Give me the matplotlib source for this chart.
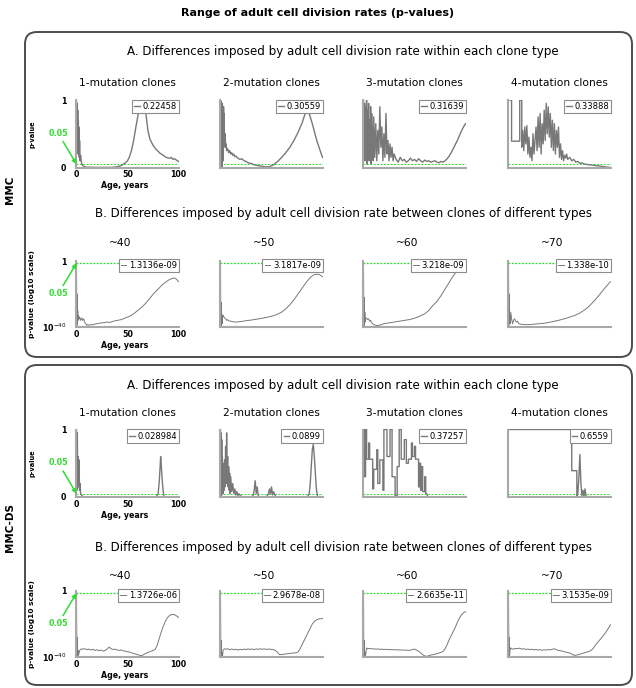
import matplotlib
matplotlib.use('Agg')
import matplotlib.pyplot as plt
from matplotlib.patches import FancyBboxPatch
from matplotlib.ticker import NullLocator

# ---------------- DATA ----------------
# A rows: (age, p-value);  B rows: (age, log10 p-value)
mmc_a_1mut = [(0,1.0),(0.3,0.3),(0.6,0.95),(0.9,0.4),(1.2,0.85),(1.5,0.2),(1.8,0.7),(2.1,0.3),(2.4,0.6),
              (2.7,0.15),(3,0.4),(3.5,0.1),(4,0.18),(5,0.06),(6,0.03),(7,0.02),(8,0.01),(10,0.005),(15,0.003),
              (20,0.002),(25,0.002),(30,0.002),(35,0.003),(38,0.006),(40,0.012),(42,0.02),(44,0.03),(46,0.05),
              (48,0.07),(50,0.1),(52,0.16),(54,0.26),(56,0.4),(58,0.58),(60,0.75),(61,0.83),(62,0.88),(63,0.93),
              (64,0.95),(65,0.95),(66,0.93),(67,0.88),(68,0.8),(69,0.68),(70,0.55),(72,0.42),(74,0.36),(75,0.33),
              (76,0.31),(78,0.27),(80,0.24),(82,0.21),(84,0.19),(86,0.17),(88,0.15),(90,0.14),(92,0.14),(93,0.15),
              (94,0.13),(95,0.12),(96,0.13),(97,0.12),(98,0.11),(100,0.09)]
mmc_a_2mut = [(0,1.0),(0.3,0.05),(0.6,0.98),(0.9,0.1),(1.2,0.9),(1.5,0.0),(1.8,0.95),(2.1,0.2),(2.4,0.85),
              (2.7,0.1),(3,0.9),(3.3,0.3),(3.6,0.8),(4,0.35),(4.5,0.5),(5,0.3),(5.5,0.35),(6,0.25),(7,0.28),
              (8,0.22),(9,0.25),(10,0.2),(11,0.22),(12,0.18),(13,0.2),(14,0.16),(15,0.17),(17,0.14),(19,0.12),
              (21,0.13),(23,0.1),(25,0.09),(27,0.07),(30,0.06),(33,0.04),(36,0.03),(40,0.02),(44,0.01),(48,0.01),
              (52,0.04),(56,0.09),(60,0.15),(64,0.22),(68,0.3),(72,0.4),(76,0.52),(80,0.66),(83,0.8),(85,0.84),
              (87,0.8),(90,0.65),(94,0.42),(97,0.28),(100,0.15)]
mmc_a_3mut = [(0,1.0),(0.5,0.2),(1,0.95),(1.5,0.1),(2,0.9),(2.5,0.3),(3,1.0),(3.5,0.05),(4,0.85),(4.5,0.4),
              (5,0.95),(5.5,0.1),(6,0.7),(6.5,0.3),(7,0.9),(7.5,0.05),(8,0.8),(8.5,0.2),(9,0.6),(9.5,0.1),
              (10,0.75),(11,0.15),(12,0.65),(13,0.1),(14,0.55),(15,0.2),(16,0.9),(17,0.3),(18,0.6),(19,0.1),
              (20,0.5),(21,0.15),(22,0.8),(23,0.2),(24,0.4),(25,0.1),(26,0.35),(27,0.15),(28,0.3),(29,0.1),
              (30,0.2),(32,0.12),(34,0.08),(36,0.15),(38,0.1),(40,0.12),(42,0.08),(44,0.1),(46,0.14),(48,0.1),
              (50,0.12),(52,0.09),(54,0.13),(56,0.1),(58,0.08),(60,0.11),(62,0.09),(64,0.1),(66,0.08),(68,0.09),
              (70,0.1),(72,0.08),(74,0.07),(76,0.09),(78,0.08),(80,0.1),(82,0.13),(84,0.17),(86,0.22),(88,0.28),
              (90,0.34),(92,0.4),(94,0.47),(96,0.54),(98,0.6),(100,0.65)]
mmc_a_4mut = [(0,1.0),(3,1.0),(3,0.39),(11,0.39),(11,1.0),(13,1.0),(13,0.3),(14,0.55),(15,0.25),(16,0.6),
              (17,0.35),(18,0.62),(19,0.2),(20,0.45),(21,0.15),(22,0.3),(23,0.1),(24,0.5),(25,0.2),(26,0.4),
              (27,0.6),(28,0.25),(29,0.75),(30,0.3),(31,0.8),(32,0.2),(33,0.65),(34,0.35),(35,0.85),(36,0.4),
              (37,0.95),(38,0.5),(39,0.9),(40,0.45),(41,0.8),(42,0.3),(43,0.7),(44,0.25),(45,0.65),(46,0.2),
              (47,0.55),(48,0.3),(49,0.6),(50,0.15),(51,0.35),(52,0.12),(53,0.25),(54,0.1),(55,0.18),(56,0.14),
              (57,0.2),(58,0.12),(60,0.15),(62,0.1),(64,0.12),(66,0.08),(68,0.09),(70,0.06),(72,0.07),(74,0.05),
              (76,0.05),(78,0.04),(80,0.04),(85,0.03),(90,0.02),(95,0.01),(100,0.0)]

mmc_b_40 = [(0,0),(0.3,-40),(0.6,-20),(0.9,-38),(1.2,-30),(1.5,-36),(2,-33),(2.5,-35),(3,-34),(4,-36),
            (5,-34.5),(6,-36),(7,-35),(8,-37),(9,-38),(10,-39),(11,-38.5),(12,-39),(14,-38.5),(16,-38.7),
            (18,-38.2),(20,-38),(22,-37.8),(25,-37.5),(28,-37.3),(30,-37),(33,-37.2),(36,-36.5),(40,-36),
            (44,-35.5),(48,-34.5),(52,-33.5),(56,-32),(60,-30),(64,-28),(68,-25.5),(72,-22.5),(76,-19.5),
            (80,-17),(84,-14.5),(88,-12.5),(91,-11.3),(94,-10.5),(96,-10.3),(98,-11),(100,-12.5)]
mmc_b_50 = [(0,0),(0.3,-40),(0.6,-25),(0.9,-39),(1.2,-32),(1.6,-38),(2,-34),(2.5,-33),(3,-33.5),(4,-34.5),
            (5,-35),(6,-36),(7,-35.5),(8,-36.3),(10,-36.5),(12,-36.8),(15,-37),(18,-36.8),(20,-36.7),
            (25,-36.2),(30,-35.8),(35,-35.3),(40,-34.8),(45,-34.2),(50,-33.5),(55,-32.5),(60,-31),(64,-29),
            (68,-26.5),(72,-23.5),(76,-20),(80,-16.5),(84,-13),(88,-10),(91,-8.5),(94,-8),(97,-8.2),(100,-9.5)]
mmc_b_60 = [(0,0),(0.3,-40),(0.6,-22),(0.9,-39),(1.3,-31),(1.7,-37),(2,-35),(3,-34.5),(4,-35.5),(5,-35),
            (6,-36.5),(7,-36),(8,-37.5),(10,-38.5),(12,-39),(14,-39.2),(16,-38.8),(18,-38.5),(20,-38),
            (25,-37.5),(30,-37),(35,-36.5),(40,-36),(45,-35.5),(50,-34.7),(55,-33.5),(60,-32),(64,-30),
            (68,-27),(72,-24.5),(76,-21),(80,-17),(84,-13),(88,-9),(91,-6.5),(94,-4.5),(97,-3),(100,-2.5)]
mmc_b_70 = [(0,0),(0.3,-40),(0.6,-20),(0.9,-38),(1.3,-33),(1.7,-38),(2.2,-31),(3,-35),(4,-38),(5,-36),
            (6,-35),(7,-36.5),(8,-37),(9,-36.5),(10,-38),(12,-38.3),(15,-38.5),(20,-38.6),(25,-38.3),
            (30,-38),(35,-37.7),(40,-37.2),(45,-36.5),(50,-35.8),(55,-35),(60,-34),(65,-33),(70,-31.5),
            (75,-29.5),(80,-26.8),(85,-23.5),(90,-19.8),(95,-16),(100,-12.5)]

ds_a_1mut = [(0,1.0),(0.4,0.1),(0.8,0.95),(1.2,0.2),(1.6,0.6),(2,0.15),(2.4,0.55),(3,0.1),(3.5,0.2),
             (4,0.05),(5,0.03),(6,0.01),(8,0.0),(20,0.0),(40,0.0),(60,0.0),(78,0.0),(80,0.05),(81,0.2),
             (82,0.45),(82.5,0.6),(83,0.5),(84,0.25),(85,0.08),(86,0.0),(100,0.0)]
ds_a_2mut = [(0,1.0),(0.3,0.1),(0.6,0.95),(0.9,0.0),(1.2,0.85),(1.5,0.05),(1.8,0.6),(2.1,0.1),(2.4,0.5),
             (2.7,0.05),(3,0.4),(3.5,0.1),(4,0.55),(4.5,0.15),(5,0.75),(5.5,0.2),(6,0.95),(6.5,0.3),(7,0.6),
             (7.5,0.15),(8,0.45),(8.5,0.1),(9,0.35),(9.5,0.05),(10,0.3),(11,0.08),(12,0.2),(13,0.05),
             (14,0.12),(15,0.03),(16,0.08),(17,0.02),(18,0.05),(20,0.01),(25,0.0),(30,0.0),(32,0.02),
             (33,0.1),(34,0.24),(35,0.05),(36,0.15),(37,0.02),(38,0.0),(45,0.0),(47,0.05),(48,0.12),
             (49,0.04),(50,0.15),(51,0.03),(52,0.08),(54,0.01),(56,0.0),(85,0.0),(87,0.05),(88,0.2),
             (89,0.45),(90,0.7),(91,0.78),(92,0.6),(93,0.35),(94,0.12),(95,0.02),(96,0.0),(100,0.0)]
ds_a_3mut = [(0,1.0),(1,1.0),(1,0.3),(2,0.3),(2,1.0),(3,1.0),(3,0.56),(5,0.56),(5,0.8),(6,0.8),(6,0.56),
             (9,0.56),(9,0.12),(10,0.12),(10,0.41),(13,0.41),(13,0.7),(14,0.7),(14,0.2),(16,0.2),(16,0.55),
             (19,0.55),(19,0.1),(20,0.1),(20,1.0),(23,1.0),(23,0.6),(26,0.6),(26,1.0),(28,1.0),(28,0.3),
             (31,0.3),(31,0.02),(33,0.02),(33,0.45),(35,0.45),(35,1.0),(37,1.0),(37,0.56),(40,0.56),
             (40,0.85),(42,0.85),(42,0.5),(44,0.5),(44,0.56),(47,0.56),(47,0.8),(48,0.8),(48,0.6),(50,0.6),
             (50,0.75),(51,0.75),(51,0.56),(54,0.56),(54,0.15),(55,0.15),(55,0.5),(56,0.5),(56,0.1),(57,0.1),
             (57,0.45),(58,0.45),(58,0.08),(60,0.08),(60,0.3),(61,0.3),(61,0.05),(62,0.05),(63,0.0),(100,0.0)]
ds_a_4mut = [(0,1.0),(62,1.0),(62,0.39),(67,0.39),(67,0.0),(68,0.05),(69,0.3),(70,0.63),(71,0.2),(72,0.02),
             (73,0.1),(74,0.0),(75,0.12),(76,0.02),(77,0.0),(100,0.0)]

ds_b_40 = [(0,0),(0.3,-40),(0.6,-28),(1,-40),(1.5,-36),(2,-39),(3,-36),(4,-35.5),(5,-35),(6,-35.3),(8,-35),
           (10,-35.5),(12,-35.2),(14,-35.8),(16,-35.3),(18,-36),(20,-35.6),(22,-36.2),(24,-35.8),(26,-36.4),
           (28,-36),(30,-35.2),(32,-34),(34,-35),(36,-35.5),(38,-35.2),(40,-35.8),(42,-36),(44,-35.7),
           (46,-36.3),(48,-36.5),(50,-36.8),(52,-37),(54,-37.5),(56,-37.8),(58,-38.2),(60,-38.6),(62,-39),
           (64,-39.2),(66,-38.5),(68,-37.8),(70,-37.2),(72,-36.8),(75,-36),(77,-35.5),(79,-33),(81,-29),
           (83,-25),(85,-21.5),(87,-18.5),(89,-16.3),(91,-15),(93,-14.3),(95,-14.2),(97,-14.6),(99,-15.5),
           (100,-16)]
ds_b_50 = [(0,0),(0.3,-40),(0.6,-30),(1,-40),(1.5,-37),(2,-39.5),(2.5,-36),(3,-35.5),(4,-35),(5,-35.3),
           (7,-35),(9,-35.5),(11,-35.2),(13,-35.6),(15,-35.3),(17,-35.8),(19,-35.4),(21,-35.6),(23,-35.2),
           (25,-35.5),(27,-35.1),(29,-35.4),(31,-35.2),(33,-35.5),(35,-35.1),(37,-35.4),(39,-35),(41,-35.3),
           (43,-35.1),(45,-35.4),(47,-35.2),(49,-35.3),(51,-35.5),(53,-35.8),(55,-36.6),(57,-38),(58,-38.6),
           (60,-38.5),(62,-38.4),(64,-38.1),(66,-38),(68,-37.8),(70,-37.7),(72,-37.6),(74,-37.4),(76,-37),
           (78,-35),(80,-32.5),(82,-30),(84,-27.5),(86,-25),(88,-22.5),(90,-20),(92,-18.5),(94,-17.5),
           (96,-17),(98,-16.8),(100,-16.7)]
ds_b_60 = [(0,0),(0.3,-40),(0.6,-30),(1,-40),(1.5,-37),(2,-39),(3,-34.5),(4,-35),(6,-34.8),(8,-35.1),
           (10,-35),(12,-35.3),(14,-35.1),(16,-35.4),(18,-35.2),(20,-35.5),(22,-35.3),(24,-35.6),(26,-35.4),
           (28,-35.7),(30,-35.5),(32,-35.7),(34,-35.6),(36,-35.8),(38,-35.7),(40,-35.9),(42,-35.8),(44,-36),
           (46,-35.9),(48,-35.5),(50,-35.2),(52,-35.8),(54,-36.5),(56,-37.5),(58,-38.6),(60,-39.3),(62,-39.6),
           (64,-39.2),(66,-38.8),(68,-38.6),(70,-38.3),(72,-38),(74,-37.6),(76,-37.2),(78,-36.5),(80,-35),
           (82,-32.5),(84,-29.5),(86,-27),(88,-24.5),(90,-22),(92,-19),(94,-16.5),(96,-14.5),(98,-13.2),
           (100,-12.5)]
ds_b_70 = [(0,0),(0.3,-40),(0.6,-28),(1,-40),(1.5,-36),(2,-34.4),(3,-35),(5,-35.2),(7,-34.8),(9,-35),
           (11,-34.6),(13,-35.2),(15,-35),(17,-35.4),(19,-35.2),(21,-35.5),(23,-35.3),(25,-35.7),(27,-35.4),
           (29,-35.8),(31,-35.5),(33,-35.9),(35,-35.6),(37,-35.8),(39,-35.5),(41,-35.7),(43,-35.3),(45,-35),
           (47,-35.6),(49,-36),(51,-36.2),(53,-36.5),(55,-36.8),(57,-37.2),(59,-37.4),(61,-37.8),(63,-38.6),
           (65,-39),(67,-38.8),(69,-38.5),(71,-38.1),(73,-37.7),(75,-37.3),(77,-37),(79,-36.6),(81,-36),
           (83,-34.8),(85,-33),(87,-31.5),(89,-30),(91,-28.5),(93,-27),(95,-25.3),(97,-23.5),(99,-21.5),
           (100,-20.4)]

a_titles = ['1-mutation clones', '2-mutation clones', '3-mutation clones', '4-mutation clones']
b_titles = ['~40', '~50', '~60', '~70']
mmc_a_labels = ['0.22458', '0.30559', '0.31639', '0.33888']
mmc_b_labels = ['1.3136e-09', '3.1817e-09', '3.218e-09', '1.338e-10']
ds_a_labels = ['0.028984', '0.0899', '0.37257', '0.6559']
ds_b_labels = ['1.3726e-06', '2.9678e-08', '2.6635e-11', '3.1535e-09']
x_ticks = [0, 50, 100]
threshold = 0.05

main_title = 'Range of adult cell division rates (p-values)'
section_a = 'A. Differences imposed by adult cell division rate within each clone type'
section_b = 'B. Differences imposed by adult cell division rate between clones of different types'

# ---------------- LAYOUT ----------------
W, H = 636, 688
plt.rcParams['font.family'] = ['DejaVu Sans']
fig = plt.figure(figsize=(W / 100, H / 100), dpi=100)

GREEN = '#2fdc2f'
LINE = '#787878'
SPINE = '#a8a8a8'
col_left = [76, 220, 363, 508]
AX_W = 103


def add_ax(left, top, w, h):
    return fig.add_axes([left / W, 1 - (top + h) / H, w / W, h / H])


def ftext(x, y, s, **kw):
    fig.text(x / W, 1 - y / H, s, **kw)


def style(ax):
    for s in ['top', 'right']:
        ax.spines[s].set_visible(False)
    for s in ['left', 'bottom']:
        ax.spines[s].set_color(SPINE)
        ax.spines[s].set_linewidth(1.5)
    ax.tick_params(length=0)
    ax.set_xlim(-0.5, 100.5)


def add_legend(ax, ln, label, anchor_y=1.0):
    leg = ax.legend([ln], [label], loc='upper right', bbox_to_anchor=(1.0, anchor_y), fontsize=6,
                    frameon=True, fancybox=False, edgecolor='#8c8c8c', framealpha=1, borderpad=0.25,
                    handlelength=0.7, handletextpad=0.3, borderaxespad=0.0)
    leg.get_frame().set_linewidth(0.8)
    leg.set_zorder(10)


def green_arrow(ax, top):
    ax.annotate('0.05', xy=(0, threshold), xycoords='data', xytext=(58, H - (top + 33)),
                textcoords='figure pixels', color=GREEN, fontsize=5.8, fontweight='bold',
                ha='center', va='center', annotation_clip=False,
                arrowprops=dict(arrowstyle='-|>', color=GREEN, lw=1.1, mutation_scale=6,
                                shrinkA=1, shrinkB=0))


def draw_row_a(top, datasets, labels, title_y):
    for i, (data, lab) in enumerate(zip(datasets, labels)):
        ax = add_ax(col_left[i], top, AX_W, 67.5)
        xs = [d[0] for d in data]
        ys = [d[1] for d in data]
        ax.axhline(threshold, color=GREEN, lw=0.7, ls=(0, (2, 1.5)), zorder=1)
        ln, = ax.plot(xs, ys, color=LINE, lw=1.0, zorder=2)
        style(ax)
        ax.set_ylim(0, 1.0)
        add_legend(ax, ln, lab)
        ftext(col_left[i] + AX_W / 2, title_y, a_titles[i], fontsize=7.7, ha='center', va='center')
        if i == 0:
            ax.set_yticks([0, 1])
            ax.set_yticklabels(['0', '1'], fontweight='bold', fontsize=5.7)
            ax.set_xticks(x_ticks)
            ax.set_xticklabels([str(t) for t in x_ticks], fontweight='bold', fontsize=5.7)
            ax.tick_params(axis='y', pad=7)
            ax.tick_params(axis='x', pad=2)
            ftext(33, top + 34, 'p-value', fontsize=4.8, fontweight='bold', rotation=90,
                  ha='center', va='center')
            ftext(125, top + 86, 'Age, years', fontsize=5.7, fontweight='bold', ha='center', va='center')
            green_arrow(ax, top)
        else:
            ax.set_xticks([])
            ax.set_yticks([])


def draw_row_b(top, datasets, labels, title_y):
    for i, (data, lab) in enumerate(zip(datasets, labels)):
        ax = add_ax(col_left[i], top, AX_W, 66)
        xs = [d[0] for d in data]
        ys = [10.0 ** d[1] for d in data]
        ax.set_yscale('log')
        ax.axhline(threshold, color='#22e022', lw=0.9, ls=(0, (1.5, 1.2)), zorder=1)
        ln, = ax.plot(xs, ys, color=LINE, lw=0.7, zorder=2)
        style(ax)
        ax.set_ylim(1e-40, 1)
        ax.yaxis.set_minor_locator(NullLocator())
        add_legend(ax, ln, lab, anchor_y=1.03)
        ftext(col_left[i] + 44, title_y, b_titles[i], fontsize=7.7, ha='center', va='center')
        if i == 0:
            ax.set_yticks([1e-40, 1])
            ax.set_yticklabels([r'$\mathbf{10}^{-40}$', '1'], fontweight='bold', fontsize=5.7)
            ax.set_xticks(x_ticks)
            ax.set_xticklabels([str(t) for t in x_ticks], fontweight='bold', fontsize=5.7)
            ax.tick_params(axis='y', pad=7)
            ax.tick_params(axis='x', pad=2)
            ftext(32, top + 33, 'p-value (log10 scale)', fontsize=5.3, fontweight='bold', rotation=90,
                  ha='center', va='center')
            ftext(125, top + 84, 'Age, years', fontsize=5.7, fontweight='bold', ha='center', va='center')
            green_arrow(ax, top)
        else:
            ax.set_xticks([])
            ax.set_yticks([])
            ax.yaxis.set_minor_locator(NullLocator())


# frames
for (y0, y1) in [(32, 357), (365, 685)]:
    box = FancyBboxPatch((25 / 100, (H - y1) / 100), (632 - 25) / 100, (y1 - y0) / 100,
                         boxstyle='round,pad=0,rounding_size=0.12', transform=fig.dpi_scale_trans,
                         facecolor='none', edgecolor='#4d4d4d', linewidth=1.4)
    fig.add_artist(box)

ftext(318, 13, main_title, fontsize=8, fontweight='bold', ha='center', va='center')
ftext(10, 190, 'MMC', fontsize=7.5, fontweight='bold', rotation=90, ha='center', va='center')
ftext(10, 527, 'MMC-DS', fontsize=7.5, fontweight='bold', rotation=90, ha='center', va='center')

ftext(343, 51, section_a, fontsize=8.6, ha='center', va='center')
ftext(343, 213, section_b, fontsize=8.6, ha='center', va='center')
ftext(343, 385, section_a, fontsize=8.6, ha='center', va='center')
ftext(343, 548, section_b, fontsize=8.6, ha='center', va='center')

draw_row_a(100, [mmc_a_1mut, mmc_a_2mut, mmc_a_3mut, mmc_a_4mut], mmc_a_labels, 83)
draw_row_b(261, [mmc_b_40, mmc_b_50, mmc_b_60, mmc_b_70], mmc_b_labels, 243)
draw_row_a(429.5, [ds_a_1mut, ds_a_2mut, ds_a_3mut, ds_a_4mut], ds_a_labels, 413)
draw_row_b(591, [ds_b_40, ds_b_50, ds_b_60, ds_b_70], ds_b_labels, 576)

fig.savefig('out.png', dpi=100)
